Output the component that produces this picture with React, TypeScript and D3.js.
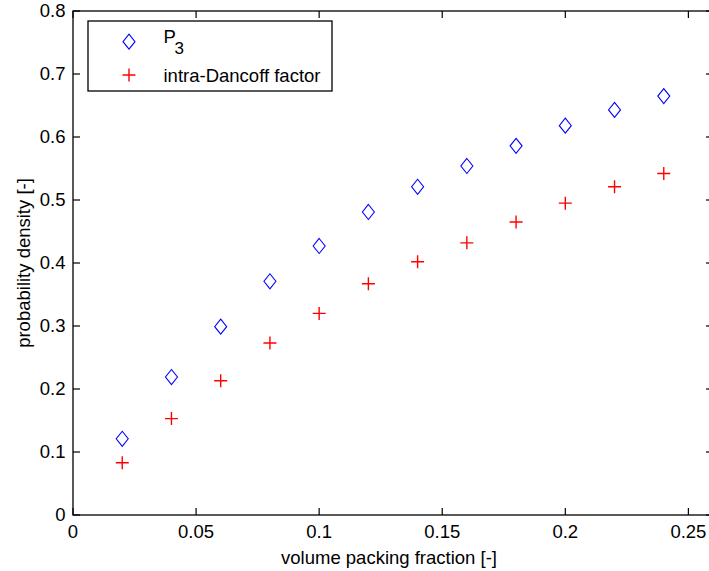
import React from "react";
import * as d3 from "d3";

const packingFractions = [0.02, 0.04, 0.06, 0.08, 0.1, 0.12, 0.14, 0.16, 0.18, 0.2, 0.22, 0.24];
const p3Values = [0.121, 0.219, 0.299, 0.371, 0.427, 0.481, 0.521, 0.554, 0.586, 0.618, 0.643, 0.665];
const dancoffValues = [0.083, 0.153, 0.213, 0.273, 0.32, 0.367, 0.402, 0.432, 0.465, 0.495, 0.521, 0.542];
const xTicks = [0, 0.05, 0.1, 0.15, 0.2, 0.25];
const yTicks = [0, 0.1, 0.2, 0.3, 0.4, 0.5, 0.6, 0.7, 0.8];
const xLabel = "volume packing fraction [-]";
const yLabel = "probability density [-]";
const legendP3 = "P";
const legendP3Sub = "3";
const legendDancoff = "intra-Dancoff factor";

const W = 709;
const H = 571;
const FONT = "'Liberation Sans', Arial, Helvetica, sans-serif";
const FS = 18.5;

export default function App() {
  const x = d3.scaleLinear().domain([0, 0.26]).range([73, 713]);
  const y = d3.scaleLinear().domain([0, 0.8]).range([515, 11]);
  const tick = 7;
  const axisColor = "#000";

  const diamond = (cx: number, cy: number) =>
    `M${cx},${cy - 7.5}L${cx + 6},${cy}L${cx},${cy + 7.5}L${cx - 6},${cy}Z`;
  const plus = (cx: number, cy: number) =>
    `M${cx - 6.5},${cy}H${cx + 6.5}M${cx},${cy - 6.5}V${cy + 6.5}`;

  const x0 = x.range()[0], x1 = x.range()[1];
  const y0 = y.range()[0], y1 = y.range()[1];

  return (
    <svg
      width={W}
      height={H}
      style={{ position: "absolute", left: 0, top: 0, background: "#fff" }}
      fontFamily={FONT}
    >
      <rect x={0} y={0} width={W} height={H} fill="#fff" />
      {/* axes box */}
      <rect x={x0} y={y1} width={x1 - x0} height={y0 - y1} fill="none" stroke={axisColor} strokeWidth={1.3} />
      {/* x ticks */}
      {xTicks.map((t) => (
        <g key={"xt" + t}>
          <line x1={x(t)} x2={x(t)} y1={y0} y2={y0 - tick} stroke={axisColor} strokeWidth={1.2} />
          <line x1={x(t)} x2={x(t)} y1={y1} y2={y1 + tick} stroke={axisColor} strokeWidth={1.2} />
          <text x={x(t)} y={538} textAnchor="middle" fontSize={FS} fill="#000">
            {String(t)}
          </text>
        </g>
      ))}
      {/* y ticks */}
      {yTicks.map((t) => (
        <g key={"yt" + t}>
          <line x1={x0} x2={x0 + tick} y1={y(t)} y2={y(t)} stroke={axisColor} strokeWidth={1.2} />
          <line x1={x1} x2={x1 - tick} y1={y(t)} y2={y(t)} stroke={axisColor} strokeWidth={1.2} />
          <text x={65.5} y={y(t)} dy="0.35em" textAnchor="end" fontSize={FS} fill="#000">
            {String(t)}
          </text>
        </g>
      ))}
      {/* axis titles */}
      <text x={389} y={564} textAnchor="middle" fontSize={FS} fill="#000">
        {xLabel}
      </text>
      <text
        transform={`translate(29.5,${(y0 + y1) / 2}) rotate(-90)`}
        textAnchor="middle"
        fontSize={FS}
        fill="#000"
      >
        {yLabel}
      </text>
      {/* data */}
      {packingFractions.map((f, i) => (
        <path key={"d" + i} d={diamond(x(f), y(p3Values[i]))} fill="none" stroke="#0000ff" strokeWidth={1.1} />
      ))}
      {packingFractions.map((f, i) => (
        <path key={"p" + i} d={plus(x(f), y(dancoffValues[i]))} fill="none" stroke="#ff0000" strokeWidth={1.4} />
      ))}
      {/* legend */}
      <rect x={88} y={21} width={244} height={70} fill="#fff" stroke={axisColor} strokeWidth={1.3} />
      <path d={diamond(129, 41.7)} fill="none" stroke="#0000ff" strokeWidth={1.1} />
      <text x={163.5} y={42.5} fontSize={FS} fill="#000">
        {legendP3}
      </text>
      <text x={174.5} y={54} fontSize={17} fill="#000">
        {legendP3Sub}
      </text>
      <path d={plus(129, 75)} fill="none" stroke="#ff0000" strokeWidth={1.4} />
      <text x={163.5} y={81.7} fontSize={FS} fill="#000">
        {legendDancoff}
      </text>
    </svg>
  );
}
